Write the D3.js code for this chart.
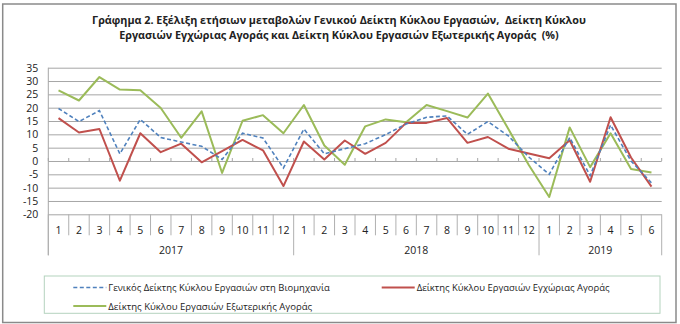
<!DOCTYPE html>
<html>
<head>
<meta charset="utf-8">
<script src="https://cdn.jsdelivr.net/npm/d3@7"></script>
<style>
  html, body { margin: 0; padding: 0; background: #fff; }
  svg { display: block; }
  text { font-family: "Open Sans", "Noto Sans", "DejaVu Sans", sans-serif; fill: #222; white-space: pre; }
</style>
</head>
<body>
<svg id="chart" width="680" height="324"></svg>
<script>
// ---------- data ----------
const months = ["1","2","3","4","5","6","7","8","9","10","11","12",
                "1","2","3","4","5","6","7","8","9","10","11","12",
                "1","2","3","4","5","6"];
const years = ["2017", "2018", "2019"];
const yearSpans = [12, 12, 6];
const yTicks = [35, 30, 25, 20, 15, 10, 5, 0, -5, -10, -15, -20];

const general = [19.7, 14.8, 18.9, 2.7, 15.6, 8.8, 7.1, 5.5, 0.6, 10.4, 8.6, -2.6,
                 12.0, 2.7, 4.6, 6.5, 9.9, 13.9, 16.4, 16.9, 10.0, 14.8, 9.4, 1.5,
                 -5.0, 8.8, -5.5, 13.5, 0.0, -8.2];
const domestic = [16.1, 10.7, 12.0, -7.4, 10.4, 3.3, 6.5, -0.5, 3.7, 7.9, 4.0, -9.4,
                  7.3, 0.6, 7.7, 2.7, 6.8, 14.3, 14.3, 16.1, 6.8, 9.0, 4.6, 2.8,
                  1.0, 7.8, -7.8, 16.4, 1.3, -9.6];
const external = [26.5, 22.7, 31.5, 26.8, 26.5, 19.9, 8.7, 18.6, -4.5, 15.1, 17.2, 10.4,
                  21.0, 5.8, -1.4, 13.0, 15.6, 14.5, 21.0, 18.7, 16.3, 25.3, 12.0, -1.5,
                  -13.5, 12.6, -2.3, 10.4, -3.0, -4.3];

const titleLines = [
  "Γράφημα 2. Εξέλιξη ετήσιων μεταβολών Γενικού Δείκτη Κύκλου Εργασιών,  Δείκτη Κύκλου",
  "Εργασιών Εγχώριας Αγοράς και Δείκτη Κύκλου Εργασιών Εξωτερικής Αγοράς  (%)"
];
const seriesNames = [
  "Γενικός Δείκτης Κύκλου Εργασιών στη Βιομηχανία",
  "Δείκτης Κύκλου Εργασιών Εγχώριας Αγοράς",
  "Δείκτης Κύκλου Εργασιών Εξωτερικής Αγοράς"
];

// ---------- layout ----------
const svg = d3.select("#chart");
const L = 48.3, R = 661.7, T = 67.7, B = 214.3;
const colors = { general: "#4f81bd", domestic: "#c0504d", external: "#9bbb59" };

// helper: fit text to a target width by adjusting font size
function fit(sel, target, base) {
  sel.style("font-size", base + "px");
  const w = sel.node().getComputedTextLength();
  if (w > 0) sel.style("font-size", (base * target / w).toFixed(2) + "px");
  return sel;
}

// outer border
svg.append("rect").attr("x", 2.7).attr("y", 4).attr("width", 673.3).attr("height", 318.5)
  .attr("fill", "#fff").attr("stroke", "#8a8a8a").attr("stroke-width", 1.5);

// title
const tl1 = svg.append("text").attr("x", 339).attr("y", 24).attr("text-anchor", "middle")
  .style("font-weight", "bold").text(titleLines[0]);
fit(tl1, 494, 11);
const tl2 = svg.append("text").attr("x", 339).attr("y", 39).attr("text-anchor", "middle")
  .style("font-weight", "bold").text(titleLines[1]);
tl2.style("font-size", tl1.style("font-size"));

// scales
const x = d3.scaleBand().domain(d3.range(months.length)).range([L, R]).padding(0);
const y = d3.scaleLinear().domain([-20, 35]).range([B, T]);
const cx = i => x(i) + x.bandwidth() / 2;

// y axis with gridlines
const yAxis = d3.axisLeft(y).tickValues(yTicks).tickFormat(d => String(d))
  .tickSize(-(R - L)).tickPadding(10);
const gy = svg.append("g").attr("transform", `translate(${L},0)`).call(yAxis);
gy.select(".domain").remove();
gy.selectAll(".tick line").attr("stroke", "#a6a6a6").attr("stroke-width", 1);
gy.selectAll(".tick text").style("font-size", "10.5px").attr("fill", "#222")
  .style("font-family", "'Open Sans', sans-serif");

// left axis line
svg.append("line").attr("x1", L).attr("x2", L).attr("y1", T).attr("y2", B + 41)
  .attr("stroke", "#a6a6a6");

// tick marks on the zero line at category boundaries
const bounds = d3.range(months.length + 1);
svg.append("g").selectAll("line").data(bounds).join("line")
  .attr("x1", i => i < months.length ? x(i) : R)
  .attr("x2", i => i < months.length ? x(i) : R)
  .attr("y1", y(0)).attr("y2", y(0) - 3)
  .attr("stroke", "#a6a6a6");

// category table below the plot
const yearStart = [];
let acc = 0;
yearSpans.forEach(s => { yearStart.push(acc); acc += s; });
const yearBoundaryIdx = new Set([...yearStart, months.length]);
svg.append("g").selectAll("line").data(bounds).join("line")
  .attr("x1", i => i < months.length ? x(i) : R)
  .attr("x2", i => i < months.length ? x(i) : R)
  .attr("y1", B)
  .attr("y2", i => yearBoundaryIdx.has(i) ? B + 41 : B + 21)
  .attr("stroke", "#b0b0b0");

svg.append("g").selectAll("text").data(months).join("text")
  .attr("x", (d, i) => cx(i)).attr("y", B + 19.5)
  .attr("text-anchor", "middle").style("font-size", "10.5px").text(d => d);

svg.append("g").selectAll("text").data(years).join("text")
  .attr("x", (d, k) => {
    const a = x(yearStart[k]);
    const bIdx = yearStart[k] + yearSpans[k];
    const b = bIdx < months.length ? x(bIdx) : R;
    return (a + b) / 2;
  })
  .attr("y", B + 40).attr("text-anchor", "middle").style("font-size", "10.5px").text(d => d);

// lines
const line = d3.line().x((d, i) => cx(i)).y(d => y(d));
svg.append("path").datum(external).attr("d", line).attr("fill", "none")
  .attr("stroke", colors.external).attr("stroke-width", 2).attr("stroke-linejoin", "round");
svg.append("path").datum(domestic).attr("d", line).attr("fill", "none")
  .attr("stroke", colors.domestic).attr("stroke-width", 2).attr("stroke-linejoin", "round");
svg.append("path").datum(general).attr("d", line).attr("fill", "none")
  .attr("stroke", colors.general).attr("stroke-width", 1.6).attr("stroke-dasharray", "4,2.5");

// legend
svg.append("rect").attr("x", 44.3).attr("y", 276).attr("width", 615.7).attr("height", 37.3)
  .attr("fill", "#fff").attr("stroke", "#b4d3be").attr("stroke-width", 1);

const legendItems = [
  { name: seriesNames[0], color: colors.general, dash: "4,2.5", lx: 73.3, ly: 287.5, w: 222 },
  { name: seriesNames[1], color: colors.domestic, dash: null, lx: 381.7, ly: 287.5, w: 193 },
  { name: seriesNames[2], color: colors.external, dash: null, lx: 73.3, ly: 306, w: 204 }
];
const lg = svg.append("g");
legendItems.forEach(it => {
  lg.append("line").attr("x1", it.lx).attr("x2", it.lx + 33).attr("y1", it.ly).attr("y2", it.ly)
    .attr("stroke", it.color).attr("stroke-width", it.dash ? 1.6 : 2)
    .attr("stroke-dasharray", it.dash);
  const t = lg.append("text").attr("x", it.lx + 35).attr("y", it.ly + 3.5).text(it.name);
  fit(t, it.w, 10);
});
</script>
</body>
</html>
